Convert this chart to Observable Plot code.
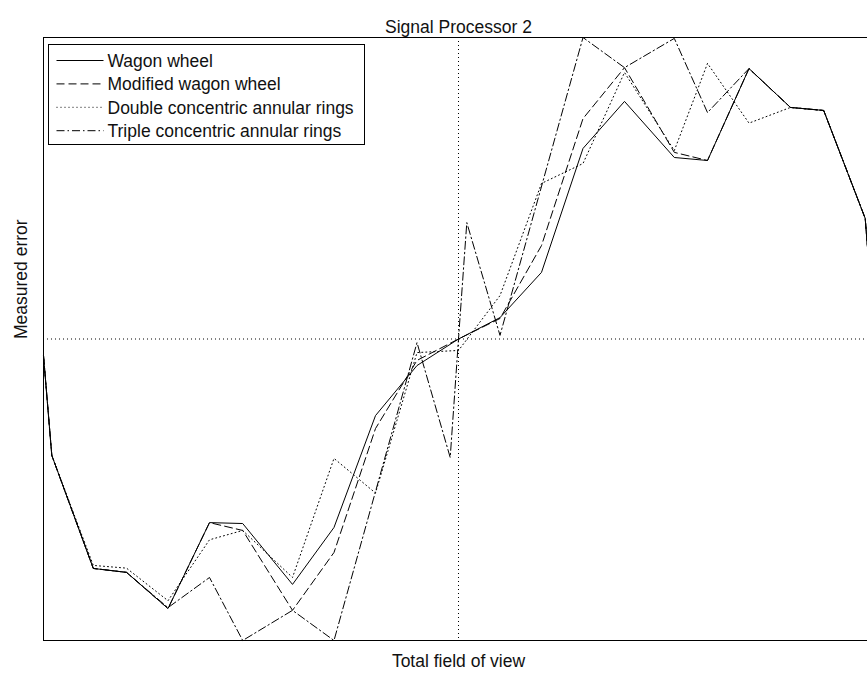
<!DOCTYPE html>
<html>
<head>
<meta charset="utf-8">
<script src="https://cdn.jsdelivr.net/npm/d3@7"></script>
<script src="https://cdn.jsdelivr.net/npm/@observablehq/plot@0.6"></script>
<style>
  html, body { margin: 0; padding: 0; background: #fff; overflow: hidden; }
  #chart { position: relative; width: 867px; height: 675px; overflow: hidden; }
  #chart svg { display: block; max-width: none !important; width: 880px !important; height: 675px !important; }
</style>
</head>
<body>
<div id="chart"></div>
<script>
// Field-of-view sample positions (normalised units) shared by three of the sensors
const fov = [-10, -9.8, -8.8, -8, -7, -6, -5.2, -4, -3, -2, -1, 0, 1, 2, 3, 4, 5.2, 6, 7, 8, 8.8, 9.8, 10];

// Measured error, normalised to the axis range [-1, 1]
const wagonWheel = [-0.055, -0.386, -0.761, -0.774, -0.894, -0.609, -0.612, -0.814, -0.625, -0.254, -0.088, 0,
  0.071, 0.221, 0.632, 0.788, 0.602, 0.592, 0.897, 0.768, 0.758, 0.400, 0.055];
const modifiedWagonWheel = [-0.055, -0.386, -0.761, -0.774, -0.894, -0.609, -0.635, -0.900, -0.708, -0.297, -0.071, 0,
  0.068, 0.310, 0.731, 0.900, 0.619, 0.592, 0.897, 0.768, 0.758, 0.400, 0.055];
const doubleRings = [-0.055, -0.386, -0.751, -0.760, -0.868, -0.666, -0.635, -0.791, -0.396, -0.511, -0.045, -0.038,
  0.144, 0.516, 0.582, 0.884, 0.625, 0.914, 0.716, 0.768, 0.758, 0.400, 0.055];

// The triple-ring sensor was sampled on its own grid, with extra points near the centre
const fovTriple = [-10, -9.8, -8.8, -8, -7, -6, -5.2, -4, -3, -1, -0.2, 0, 0.2, 1, 3, 4, 5.2, 6, 7, 8, 8.8, 9.8, 10];
const tripleRings = [-0.055, -0.386, -0.761, -0.774, -0.891, -0.791, -1.0, -0.900, -1.0, -0.012, -0.393, 0,
  0.386, 0.012, 1.0, 0.900, 0.997, 0.751, 0.897, 0.768, 0.758, 0.400, 0.055];

const seriesNames = ["Wagon wheel", "Modified wagon wheel", "Double concentric annular rings", "Triple concentric annular rings"];
const dashes = [null, "8,4", "1,3", "8,3,1.5,3"];

const rows = (xs, ys) => xs.map((x, i) => ({x, y: ys[i]}));
const series = [
  rows(fov, wagonWheel),
  rows(fov, modifiedWagonWheel),
  rows(fov, doubleRings),
  rows(fovTriple, tripleRings)
];

const font = "'Liberation Sans', Arial, sans-serif";

const chart = Plot.plot({
  width: 880,
  height: 675,
  marginLeft: 43,
  marginRight: 7,
  marginTop: 37,
  marginBottom: 35,
  x: {domain: [-10, 10], axis: null},
  y: {domain: [-1, 1], axis: null},
  style: {fontFamily: font, fontSize: "17.5px", background: "#fff", color: "#111"},
  marks: [
    Plot.ruleX([0], {stroke: "#000", strokeWidth: 1, strokeDasharray: "1,3"}),
    Plot.ruleY([0], {stroke: "#000", strokeWidth: 1, strokeDasharray: "1,3"}),
    ...series.map((data, i) => Plot.line(data, {
      x: "x", y: "y", stroke: "#000", strokeWidth: 1,
      strokeDasharray: dashes[i] ?? undefined
    })),
    Plot.frame({stroke: "#000", strokeWidth: 1}),
    Plot.text(["Signal Processor 2"], {frameAnchor: "top", dy: -17, fill: "#111", fontSize: 17.5}),
    Plot.text(["Total field of view"], {frameAnchor: "bottom", dy: 26, fill: "#111", fontSize: 17.5}),
    Plot.text(["Measured error"], {frameAnchor: "left", dx: -22, rotate: -90, fill: "#111", fontSize: 17.5})
  ]
});

document.getElementById("chart").appendChild(chart);

// Legend box in the upper-left corner of the plot area
const svg = d3.select(chart);
const lg = svg.append("g").attr("transform", "translate(48.5,44.5)");
lg.append("rect").attr("width", 316).attr("height", 100)
  .attr("fill", "#fff").attr("stroke", "#000").attr("stroke-width", 1);
seriesNames.forEach((name, i) => {
  const cy = 16 + i * 23.4;
  lg.append("line").attr("x1", 8).attr("x2", 55).attr("y1", cy).attr("y2", cy)
    .attr("stroke", "#000").attr("stroke-width", 1)
    .attr("stroke-dasharray", dashes[i]);
  lg.append("text").attr("x", 59).attr("y", cy).attr("dy", "0.36em")
    .attr("text-anchor", "start")
    .attr("font-family", font).attr("font-size", 17.5).attr("fill", "#111")
    .text(name);
});
</script>
</body>
</html>
